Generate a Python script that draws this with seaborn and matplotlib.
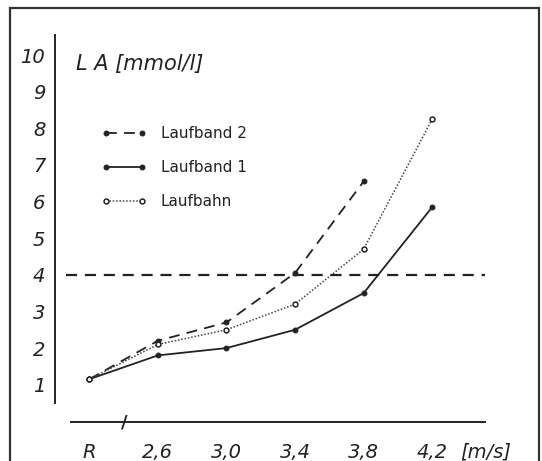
import matplotlib
matplotlib.use("Agg")
import matplotlib.pyplot as plt
import seaborn as sns
import pandas as pd
from matplotlib.patches import Rectangle

sns.set_style("white")
plt.rcParams['font.family'] = ['DejaVu Sans']

categories = ["R", "2,6", "3,0", "3,4", "3,8", "4,2"]
laufband2 = [1.15, 2.2, 2.7, 4.05, 6.55]
laufband1 = [1.15, 1.8, 2.0, 2.5, 3.5, 5.85]
laufbahn = [1.15, 2.1, 2.5, 3.2, 4.7, 8.25]
y_ticks = [1, 2, 3, 4, 5, 6, 7, 8, 9, 10]
threshold = 4

fig = plt.figure(figsize=(5.42, 4.61), dpi=100)
fig.patch.set_facecolor("white")
fig.add_artist(Rectangle((10/542, -3/461), 529/542, 456/461, transform=fig.transFigure,
                         fill=False, edgecolor="#333333", linewidth=1.6))

ax = fig.add_axes([55/542, 58/461, 430/542, 368/461])
ax.set_facecolor("none")

pos = list(range(len(categories)))

sns.lineplot(x=pos[:len(laufband2)], y=laufband2, ax=ax, color="#222222", linestyle=(0, (6, 4)),
             linewidth=1.3, marker="o", markersize=3.5, markeredgecolor="#222222", label="Laufband 2")
sns.lineplot(x=pos, y=laufband1, ax=ax, color="#222222", linestyle="-",
             linewidth=1.3, marker="o", markersize=3.5, markeredgecolor="#222222", label="Laufband 1")
sns.lineplot(x=pos, y=laufbahn, ax=ax, color="#444444", linestyle=(0, (1, 1.2)),
             linewidth=1.1, marker="o", markersize=3.5, markerfacecolor="white",
             markeredgecolor="#222222", markeredgewidth=1.1, label="Laufbahn")

ax.plot([-0.34, 5.77], [threshold, threshold], color="#222222", linestyle=(0, (5, 3.5)),
        linewidth=1.6)

ax.set_xlim(-0.5, 5.77)
ax.set_ylim(0.5, 10.55)
for s in ["top", "right", "bottom"]:
    ax.spines[s].set_visible(False)
ax.spines["left"].set_color("#222222")
ax.spines["left"].set_linewidth(1.4)
ax.set_yticks(y_ticks)
ax.set_yticklabels([str(v) for v in y_ticks], fontsize=14, style="italic", color="#222222")
ax.tick_params(axis="y", direction="out", length=5, width=1.2, color="#222222", pad=2)
ax.set_xticks([])
ax.set_xlabel("")
ax.set_ylabel("")

ax.text(-0.2, 9.75, "L A [mmol/l]", fontsize=15, style="italic", color="#222222",
        ha="left", va="center")

leg = ax.legend(loc="upper left", bbox_to_anchor=(0.075, 0.79), frameon=False, fontsize=11,
                handlelength=3.0, numpoints=2, labelspacing=1.25, handletextpad=0.9)
for t in leg.get_texts():
    t.set_color("#222222")

# separate x axis
axx = fig.add_axes([55/542, 39/461, 430/542, 0.001])
axx.set_facecolor("none")
axx.set_xlim(-0.5, 5.77)
for s in ["top", "right", "left"]:
    axx.spines[s].set_visible(False)
axx.spines["bottom"].set_bounds(-0.26, 5.77)
axx.spines["bottom"].set_color("#222222")
axx.spines["bottom"].set_linewidth(1.4)
axx.set_yticks([])
axx.set_xticks(pos)
axx.set_xticklabels(categories, fontsize=14, style="italic", color="#222222")
axx.tick_params(axis="x", direction="inout", length=6, width=1.2, color="#222222", pad=12)
axx.text(0.51, 0, "/", transform=axx.get_xaxis_transform(), fontsize=13, fontweight="bold",
         ha="center", va="center", color="#222222")
fig.text(460/542, 1 - 452/461, "[m/s]", fontsize=14, style="italic", ha="left", va="center",
         color="#222222")

fig.savefig("out.png", dpi=100)
